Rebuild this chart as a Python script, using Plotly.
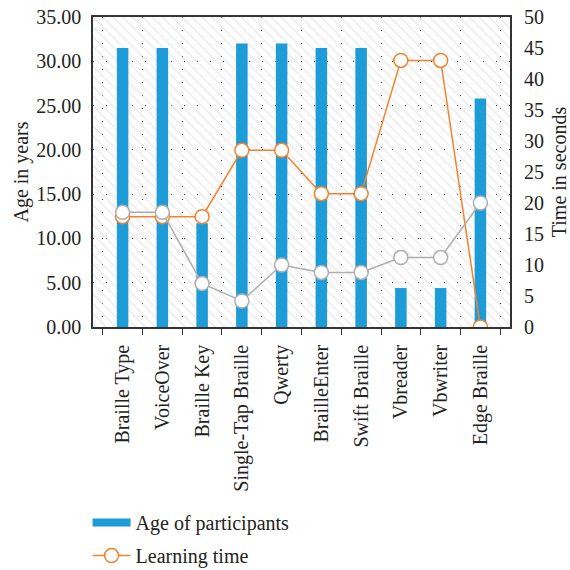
import plotly.graph_objects as go

categories = ["Braille Type", "VoiceOver", "Braille Key", "Single-Tap Braille", "Qwerty",
              "BrailleEnter", "Swift Braille", "Vbreader", "Vbwriter", "Edge Braille"]
age_of_participants = [31.5, 31.5, 11.7, 32.0, 32.0, 31.5, 31.5, 4.4, 4.4, 25.8]
learning_time = [17.8, 17.8, 17.8, 28.5, 28.5, 21.5, 21.5, 43.0, 43.0, 0.0]
gray_series = [18.5, 18.5, 7.0, 4.2, 10.0, 8.8, 8.8, 11.2, 11.2, 20.0]

FONT = "Liberation Serif"
FS = 20
BLUE = "#1E9CD7"
ORANGE = "#F4822F"
GRAY = "#AEAEAE"

fig = go.Figure()

# hatched plot background (decorative layer on hidden base axes)
fig.add_trace(go.Bar(x=[0.5], y=[1], width=[1], xaxis="x", yaxis="y",
                     marker=dict(color="rgba(0,0,0,0)", line=dict(width=0),
                                 pattern=dict(shape="\\", fgcolor="#D2D2D2", bgcolor="rgba(0,0,0,0)",
                                              size=7, solidity=0.18)),
                     showlegend=False, hoverinfo="skip"))

fig.add_trace(go.Bar(x=categories, y=age_of_participants, name="Age of participants",
                     xaxis="x2", yaxis="y2", marker=dict(color=BLUE, line=dict(width=0)),
                     width=0.29, showlegend=False))
# legend entry drawn as a wide blue block, like the reference
fig.add_trace(go.Scatter(x=[None], y=[None], name="Age of participants", mode="lines",
                         xaxis="x2", yaxis="y2", line=dict(color=BLUE, width=8),
                         legendgroup="a"))
fig.add_trace(go.Scatter(x=categories, y=learning_time, name="Learning time",
                         xaxis="x2", yaxis="y3", mode="lines+markers",
                         line=dict(color=ORANGE, width=1.5), legendgroup="b",
                         marker=dict(size=14, color="white", line=dict(color=ORANGE, width=1.5))))
fig.add_trace(go.Scatter(x=categories, y=gray_series, name="",
                         xaxis="x2", yaxis="y3", mode="lines+markers", showlegend=False,
                         line=dict(color=GRAY, width=1.5),
                         marker=dict(size=14, color="white", line=dict(color=GRAY, width=1.5))))

grid = dict(showgrid=True, gridcolor="#333333", gridwidth=1, griddash="1px,12px")

fig.update_layout(
    width=570, height=570,
    margin=dict(l=93, r=60, t=17, b=243, autoexpand=False),
    paper_bgcolor="white", plot_bgcolor="white",
    font=dict(family=FONT, size=FS, color="#222222"),
    barmode="overlay",
    xaxis=dict(visible=False, range=[0, 1], fixedrange=True),
    yaxis=dict(visible=False, range=[0, 1], fixedrange=True),
    xaxis2=dict(overlaying="x", anchor="y2", type="category", tickson="boundaries",
                ticks="outside", ticklen=6, tickcolor="#333333", tickangle=-90,
                ticklabelstandoff=8, automargin=False,
                showline=True, linecolor="#333333", linewidth=1.5, mirror=True,
                tickfont=dict(family=FONT, size=FS), **grid),
    yaxis2=dict(overlaying="y", anchor="x2", side="left", range=[0, 35], dtick=5,
                tickformat=".2f", ticks="outside", ticklen=4, tickcolor="rgba(0,0,0,0)",
                ticklabelstandoff=2, showline=True, linecolor="#333333",
                linewidth=1.5, mirror=True, zeroline=False, automargin=False,
                title=dict(text="Age in years", font=dict(family=FONT, size=FS), standoff=2),
                tickfont=dict(family=FONT, size=FS), **grid),
    yaxis3=dict(overlaying="y", anchor="x2", side="right", range=[0, 50], dtick=5,
                ticks="outside", ticklen=4, tickcolor="rgba(0,0,0,0)", ticklabelstandoff=5,
                showgrid=False, zeroline=False, showline=False, automargin=False,
                title=dict(text="Time in seconds", font=dict(family=FONT, size=FS), standoff=10),
                tickfont=dict(family=FONT, size=FS)),
    legend=dict(orientation="v", x=-0.013, xanchor="left", y=-0.568, yanchor="top",
                font=dict(family=FONT, size=FS), bgcolor="rgba(0,0,0,0)",
                traceorder="grouped", tracegroupgap=4, itemwidth=38),
    showlegend=True,
)

fig.write_html("out.html")
